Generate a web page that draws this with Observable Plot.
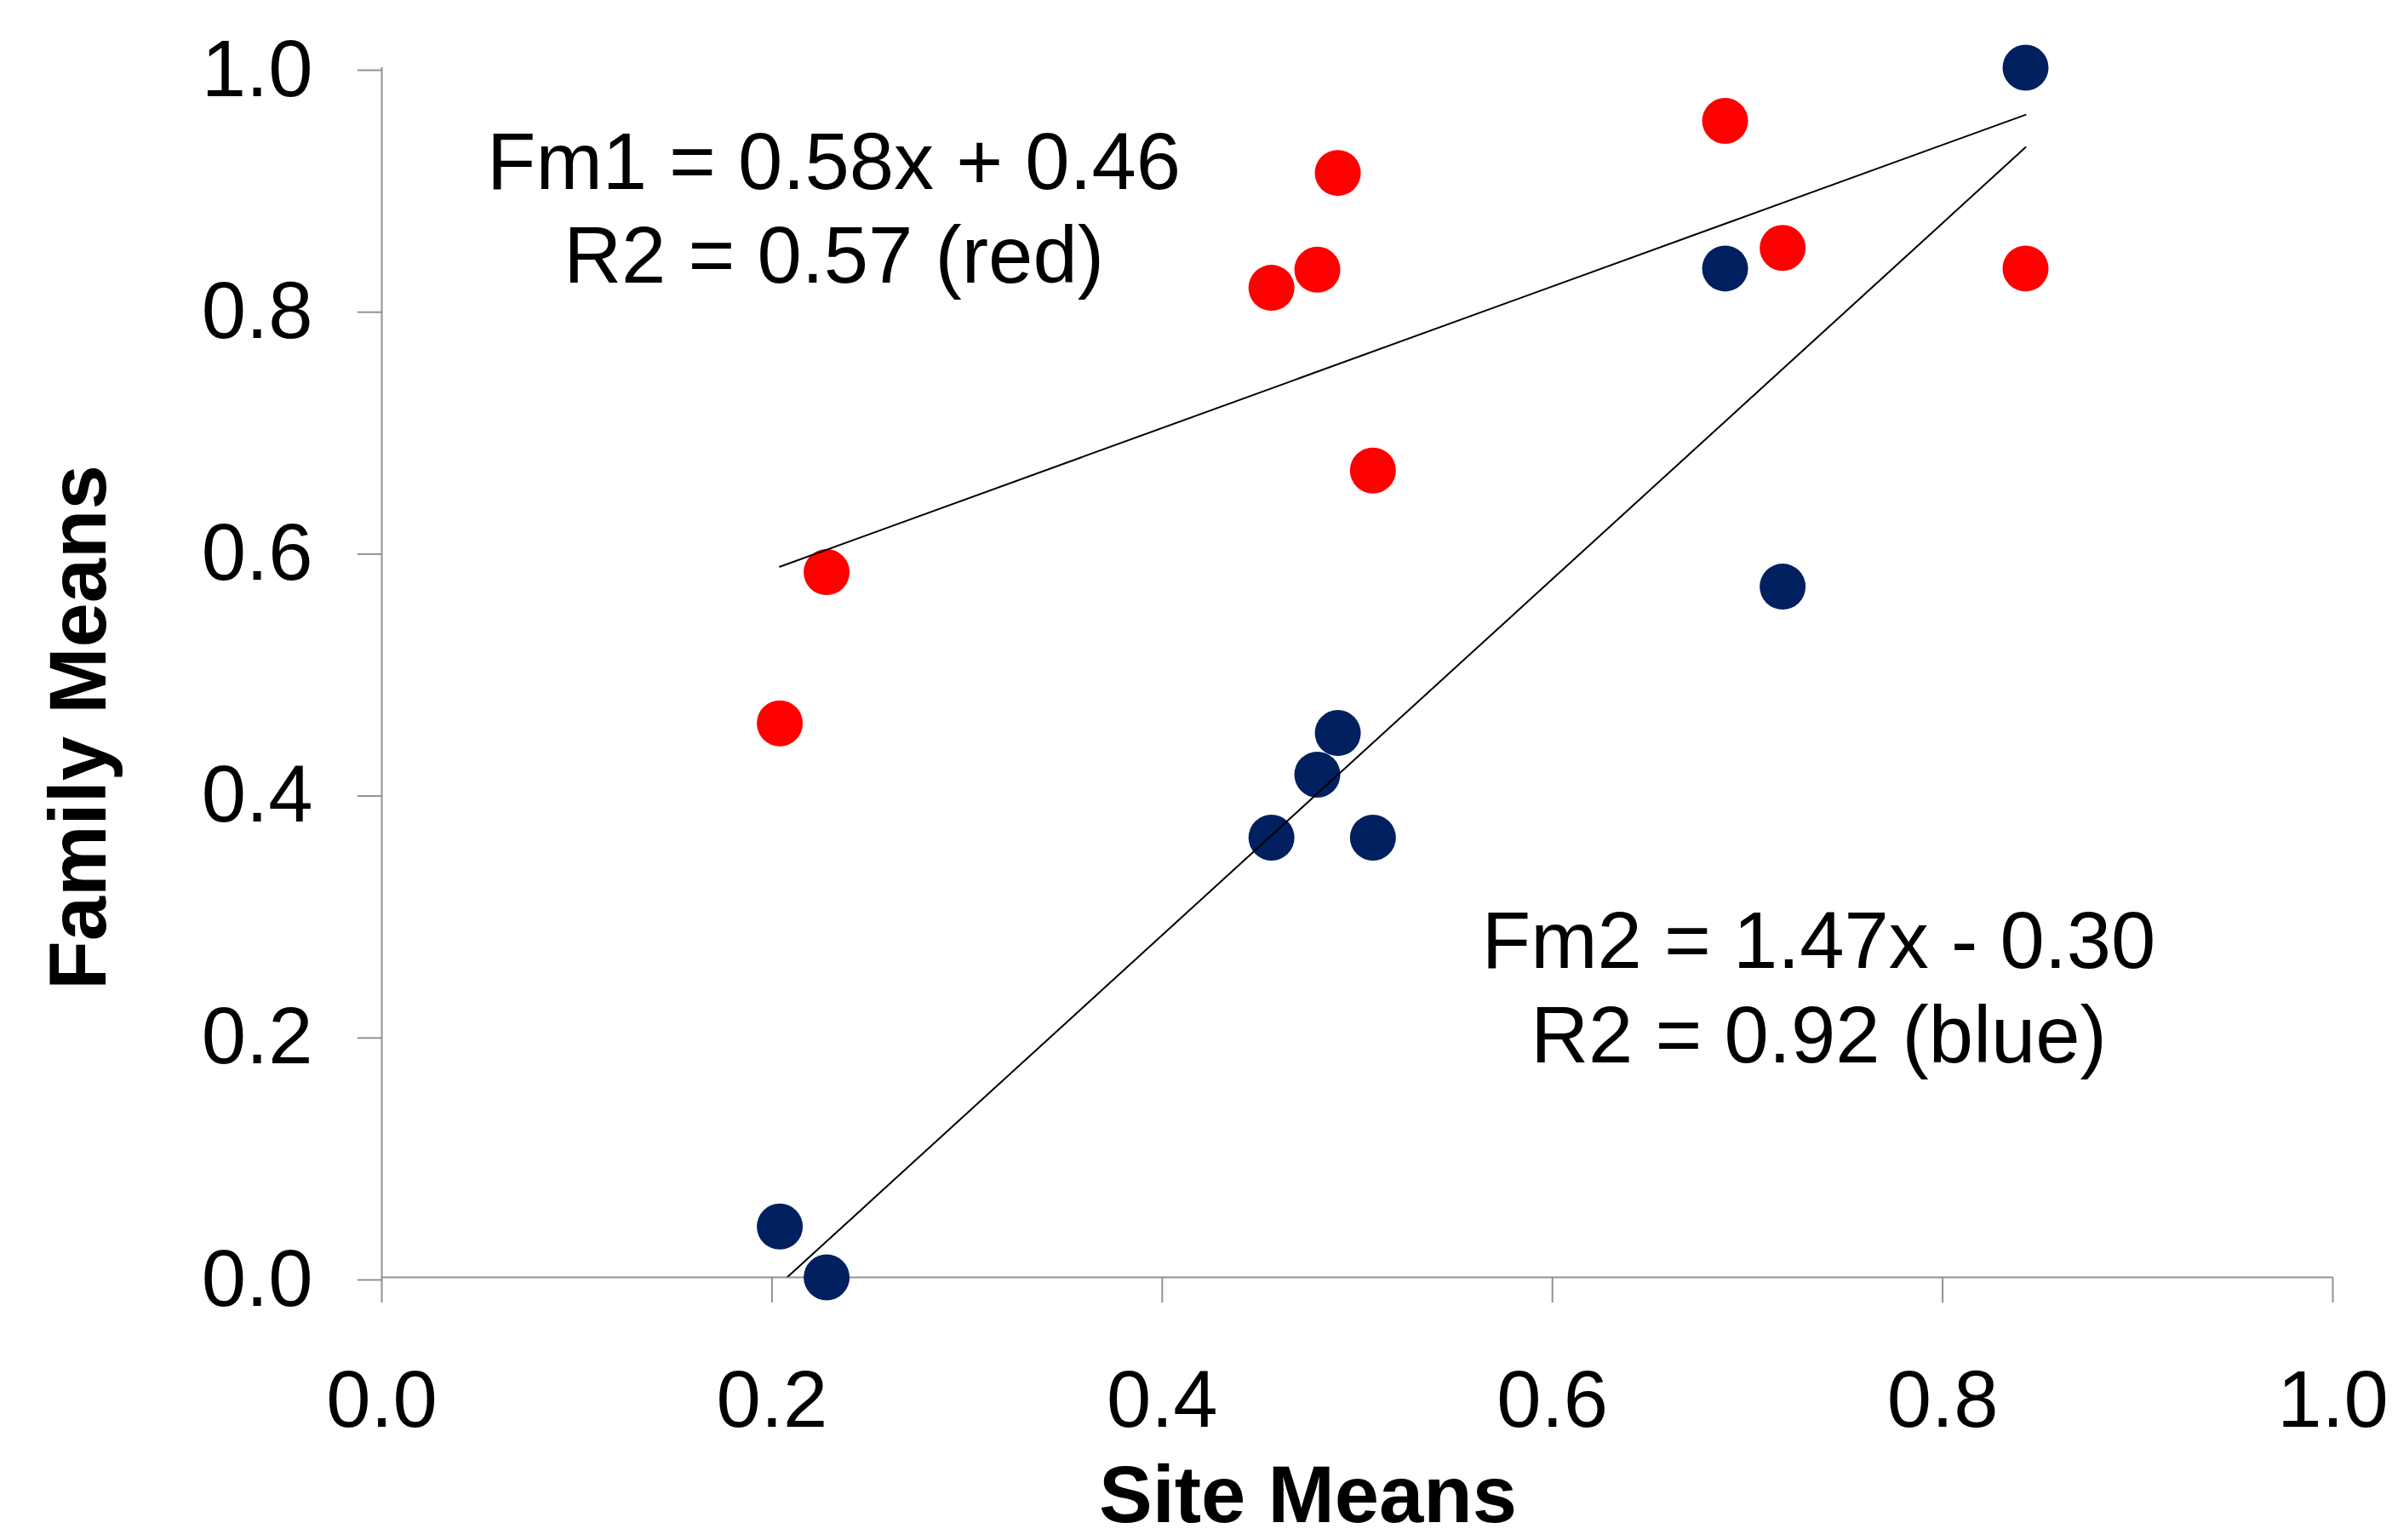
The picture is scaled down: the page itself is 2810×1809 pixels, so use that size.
<!DOCTYPE html>
<html><head><meta charset="utf-8">
<script src="https://cdn.jsdelivr.net/npm/d3@7"></script>
<script src="https://cdn.jsdelivr.net/npm/@observablehq/plot@0.6"></script>
<style>
html,body{margin:0;padding:0;background:#fff;}
#chart svg{display:block;}
</style>
</head><body><div id="chart"></div>
<script>
// ---- data ----
const siteMeans       = [0.204, 0.228, 0.456, 0.4795, 0.490, 0.508, 0.6885, 0.718, 0.8425];
const familyMeansRed  = [0.458, 0.583, 0.818, 0.833, 0.913, 0.667, 0.956, 0.851, 0.834];
const familyMeansBlue = [0.042, 0.000, 0.3635, 0.4156, 0.450, 0.3635, 0.834, 0.571, 1.000];
const xTicks = [0, 0.2, 0.4, 0.6, 0.8, 1.0];
const yTicks = [0, 0.2, 0.4, 0.6, 0.8, 1.0];
const eqRed  = "Fm1 = 0.58x + 0.46\nR2 = 0.57 (red)";
const eqBlue = "Fm2 = 1.47x - 0.30\nR2 = 0.92 (blue)";
const xTitle = "Site Means";
const yTitle = "Family Means";

const red  = siteMeans.map((x, i) => ({x, y: familyMeansRed[i]}));
const blue = siteMeans.map((x, i) => ({x, y: familyMeansBlue[i]}));

const gray = "#919191";
const FS = 94;

const chart = Plot.plot({
  width: 2810,
  height: 1809,
  marginLeft: 448,
  marginRight: 70,
  marginTop: 79,
  marginBottom: 309,
  style: {fontFamily: "'Liberation Sans', Arial, Helvetica, sans-serif", fontSize: FS + "px", color: "black", background: "white"},
  x: {domain: [0, 1], label: null},
  y: {domain: [0, 1], label: null},
  marks: [
    Plot.ruleY([0], {stroke: gray, strokeWidth: 2}),
    Plot.ruleX([0], {stroke: gray, strokeWidth: 2}),
    Plot.axisX({ticks: xTicks, tickFormat: d3.format(".1f"), tickSize: 30, tickPadding: 79,
      fontSize: FS, stroke: gray, strokeWidth: 2, fill: "black", label: null}),
    Plot.axisY({ticks: yTicks, tickFormat: d3.format(".1f"), tickSize: 28, tickPadding: 53,
      fontSize: FS, stroke: gray, strokeWidth: 2, fill: "black", label: null, dy: 3}),
    Plot.dot(red,  {x: "x", y: "y", r: 27, fill: "#FF0000", stroke: null}),
    Plot.dot(blue, {x: "x", y: "y", r: 27, fill: "#00205F", stroke: null}),
    Plot.linearRegressionY(red,  {x: "x", y: "y", ci: 0, stroke: "black", strokeWidth: 2, clip: true}),
    Plot.linearRegressionY(blue, {x: "x", y: "y", ci: 0, stroke: "black", strokeWidth: 2, clip: true}),
    Plot.text([eqRed],  {x: 0.2317, y: 0.8222, text: d => d, textAnchor: "middle", lineAnchor: "bottom",
      lineHeight: 1.176, fontSize: FS, fill: "black"}),
    Plot.text([eqBlue], {x: 0.7365, y: 0.178, text: d => d, textAnchor: "middle", lineAnchor: "bottom",
      lineHeight: 1.176, fontSize: FS, fill: "black"}),
    Plot.text([xTitle], {frameAnchor: "bottom", dx: -58, dy: 287, text: d => d, textAnchor: "middle",
      lineAnchor: "bottom", fontSize: FS, fontWeight: "bold", fill: "black"}),
    Plot.text([yTitle], {frameAnchor: "left", dx: -325, dy: 64.5, rotate: -90, text: d => d, textAnchor: "middle",
      lineAnchor: "bottom", fontSize: FS, fontWeight: "bold", fill: "black"})
  ]
});
document.getElementById("chart").appendChild(chart);
</script>
</body></html>
